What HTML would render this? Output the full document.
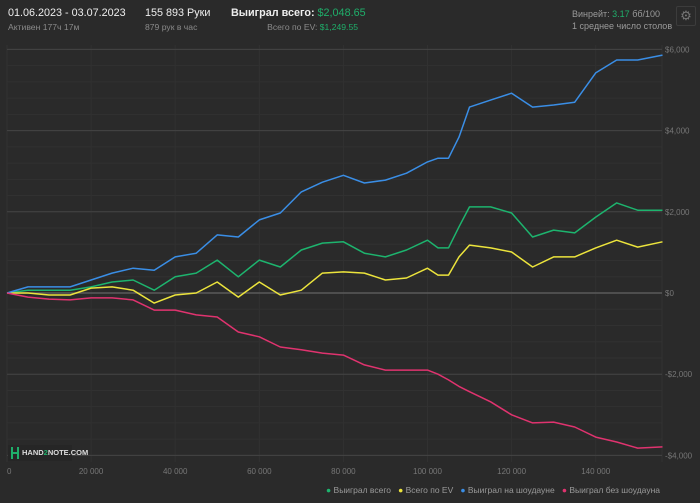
<!DOCTYPE html>
<html><head><meta charset="utf-8">
<style>
html,body{margin:0;padding:0;background:#2a2a2a;}
body{width:700px;height:503px;overflow:hidden;position:relative;font-family:"Liberation Sans","Noto Sans CJK SC",sans-serif;}
.t{position:absolute;white-space:nowrap;}
</style></head>
<body>
<div class="t" style="left:8px;top:7px;font-size:10.8px;color:#eee;">01.06.2023 - 03.07.2023</div>
<div class="t" style="left:8px;top:22px;font-size:8.6px;color:#8a8a8a;">Активен 177ч 17м</div>
<div class="t" style="left:145px;top:7px;font-size:10.8px;color:#eee;">155 893 Руки</div>
<div class="t" style="left:145px;top:22px;font-size:8.6px;color:#8a8a8a;">879 рук в час</div>
<div class="t" style="left:231px;top:7px;font-size:10.8px;color:#eee;font-weight:bold;">Выиграл всего: <span style="color:#1fae6a;font-weight:normal;">$2,048.65</span></div>
<div class="t" style="right:342px;top:22px;font-size:8.6px;color:#8a8a8a;">Всего по EV: <span style="color:#1fae6a;">$1,249.55</span></div>
<div class="t" style="left:572px;top:9px;font-size:9px;color:#9a9a9a;">Винрейт: <span style="color:#1fae6a;">3.17</span> бб/100</div>
<div class="t" style="left:572px;top:21px;font-size:9px;color:#9a9a9a;">1 среднее число столов</div>
<div style="position:absolute;left:676px;top:6px;width:18px;height:18px;border:1px solid #3c3c3c;border-radius:2px;color:#777;font-size:13px;line-height:18px;text-align:center;">⚙</div>

<svg id="chart" width="700" height="503" style="position:absolute;left:0;top:0;" xmlns="http://www.w3.org/2000/svg">
<g id="grid"></g><g id="lines"></g><g id="labels"></g>
</svg>

<div style="position:absolute;left:8px;top:445px;width:64px;height:16px;background:#262626;">
<div style="position:absolute;left:3px;top:2px;width:2px;height:12px;background:#1fae6a;"></div>
<div style="position:absolute;left:9px;top:2px;width:2px;height:12px;background:#1fae6a;"></div>
<div style="position:absolute;left:3px;top:7px;width:8px;height:2px;background:#1fae6a;"></div>
<div class="t" style="left:14px;top:3px;font-size:7.5px;color:#ddd;font-weight:bold;">HAND<span style="color:#1fae6a;">2</span>NOTE.COM</div>
</div>

<div class="t" style="right:40px;top:485px;font-size:8.5px;color:#9a9a9a;">
<span><span style="color:#1db46e;">●</span> Выиграл всего</span>&nbsp;&nbsp;
<span><span style="color:#ece43c;">●</span> Всего по EV</span>&nbsp;&nbsp;
<span><span style="color:#3a8ee6;">●</span> Выиграл на шоудауне</span>&nbsp;&nbsp;
<span><span style="color:#e0336f;">●</span> Выиграл без шоудауна</span>
</div>

<script>
const hands = [0,5000,10000,15000,20000,25000,30000,35000,40000,45000,50000,55000,60000,65000,70000,75000,80000,85000,90000,95000,100000,102500,105000,107500,110000,115000,120000,125000,130000,135000,140000,145000,150000,155893];
const showdown = [0,150,150,150,320,490,610,560,890,980,1430,1380,1800,1970,2490,2730,2900,2710,2780,2950,3230,3320,3320,3840,4580,4750,4920,4580,4630,4700,5420,5740,5740,5860];
const total = [0,70,70,70,150,270,320,70,400,490,810,400,810,640,1060,1230,1260,980,890,1060,1300,1110,1110,1630,2120,2120,1970,1380,1550,1480,1870,2220,2040,2040];
const evTotal = [0,0,-50,-50,120,150,70,-250,-50,0,270,-100,270,-50,70,490,520,490,320,370,610,440,440,890,1180,1110,1010,640,890,890,1110,1300,1130,1260];
const nonShowdown = [0,-100,-150,-170,-120,-120,-170,-420,-420,-540,-590,-960,-1080,-1330,-1400,-1480,-1530,-1770,-1900,-1900,-1900,-2000,-2140,-2300,-2430,-2680,-3000,-3200,-3180,-3300,-3550,-3670,-3820,-3790];
const yTicks = [6000,4000,2000,0,-2000,-4000];
const yTickLabels = ["$6,000","$4,000","$2,000","$0","-$2,000","-$4,000"];
const xTicks = [0,20000,40000,60000,80000,100000,120000,140000];
const xTickLabels = ["0","20 000","40 000","60 000","80 000","100 000","120 000","140 000"];

const NS="http://www.w3.org/2000/svg";
const X0=7, XPX=84.1/20000, Y0=293, YPX=40.6/1000;
const xs=h=>X0+h*XPX, ys=v=>Y0-v*YPX;
const grid=document.getElementById('grid'), lines=document.getElementById('lines'), labels=document.getElementById('labels');
function mk(tag,attrs,parent){const e=document.createElementNS(NS,tag);for(const k in attrs)e.setAttribute(k,attrs[k]);parent.appendChild(e);return e;}
for(let v=-4000;v<=6000;v+=400){
  const l=mk('line',{x1:X0,x2:662,y1:ys(v),y2:ys(v),stroke:'#313131','stroke-width':1},grid);
  
  
}
for(let i=0;i<xTicks.length;i++){
  const l=mk('line',{x1:xs(xTicks[i]),x2:xs(xTicks[i]),y1:45,y2:462,stroke:'#313131','stroke-width':1},grid);
  
  
  const t=mk('text',{x:xs(xTicks[i]),y:474,fill:'#777','font-size':'8','text-anchor':i==0?'start':'middle','font-family':'Liberation Sans, sans-serif'},labels);
  t.textContent=xTickLabels[i];
  
  
}
mk('line',{x1:662,x2:662,y1:45,y2:462,stroke:'#333'},grid);
for(let i=0;i<yTicks.length;i++){
  const v=yTicks[i];
  const l=mk('line',{x1:X0,x2:662,y1:ys(v),y2:ys(v),stroke:v===0?'#5a5a5a':'#444','stroke-width':v===0?1.5:1},grid);
  
  
  const t=mk('text',{x:665,y:ys(v)+3,fill:'#777','font-size':'8','font-family':'Liberation Sans, sans-serif'},labels);
  t.textContent=yTickLabels[i];
  
  
}
const series=[[total,'#1db46e','line-total'],[evTotal,'#ece43c','line-ev'],[showdown,'#3a8ee6','line-showdown'],[nonShowdown,'#e0336f','line-non-showdown']];
for(const [arr,col,name] of series){
  const pts=arr.map((v,i)=>xs(hands[i]).toFixed(1)+','+ys(v).toFixed(1)).join(' ');
  const p=mk('polyline',{points:pts,fill:'none',stroke:col,'stroke-width':1.5,'stroke-linejoin':'round'},lines);
  
  
}
</script>
</body></html>
